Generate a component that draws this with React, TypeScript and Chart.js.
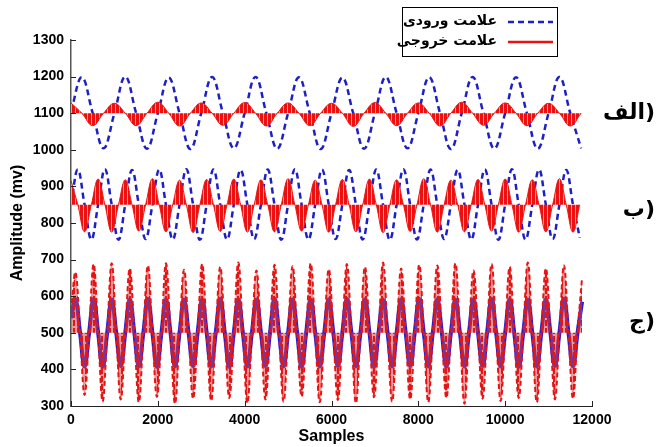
import React, { useEffect, useRef } from 'react';
import { Chart, registerables } from 'chart.js';

Chart.register(...registerables);

// ---- axes ----
const X_TICKS = [0, 2000, 4000, 6000, 8000, 10000, 12000];
const Y_TICKS = [300, 400, 500, 600, 700, 800, 900, 1000, 1100, 1200, 1300];
const X_TITLE = 'Samples';
const Y_TITLE = 'Amplitude (mv)';

// ---- legend & panel labels ----
const LEGEND_LABELS = ['علامت ورودی', 'علامت خروجی'];
const PANEL_LABELS = ['الف)', 'ب)', 'ج)'];

// ---- panel (الف): read every 250 samples ----
const TOP_STEP = 250;
const TOP_INPUT = [
  1105, 1198, 1100, 1004, 1100, 1200, 1100, 1003, 1100, 1197, 1100, 1002,
  1100, 1199, 1100, 1004, 1100, 1199, 1100, 1003, 1100, 1198, 1100, 1002,
  1100, 1197, 1100, 1003, 1100, 1199, 1100, 1004, 1100, 1198, 1100, 1002,
  1100, 1199, 1100, 1003, 1100, 1198, 1100, 1003, 1100, 1199, 1100, 1004,
];
const TOP_OUTPUT = [
  1128, 1100, 1066, 1100, 1127, 1100, 1066, 1100, 1130, 1100, 1065, 1100,
  1128, 1100, 1067, 1100, 1129, 1100, 1065, 1100, 1128, 1100, 1066, 1100,
  1127, 1100, 1064, 1100, 1129, 1100, 1066, 1100, 1128, 1100, 1065, 1100,
  1130, 1100, 1067, 1100, 1128, 1100, 1066, 1100, 1127, 1100, 1065, 1100,
];

// ---- panel (ب): read every 156.25 samples ----
const MID_STEP = 156.25;
const MID_INPUT = [
  850, 946, 850, 755, 850, 947, 850, 754, 850, 945, 850, 756, 850, 946, 850, 755,
  850, 947, 850, 754, 850, 946, 850, 755, 850, 945, 850, 756, 850, 946, 850, 754,
  850, 947, 850, 755, 850, 946, 850, 756, 850, 945, 850, 755, 850, 946, 850, 754,
  850, 947, 850, 755, 850, 946, 850, 756, 850, 945, 850, 755, 850, 946, 850, 754,
  850, 947, 850, 755, 850, 946, 850, 756, 850, 945, 850, 760,
];
const MID_OUTPUT = [
  916, 850, 776, 850, 920, 850, 775, 850, 918, 850, 778, 850, 921, 850, 776, 850,
  917, 850, 774, 850, 919, 850, 777, 850, 920, 850, 775, 850, 918, 850, 776, 850,
  921, 850, 778, 850, 917, 850, 775, 850, 919, 850, 776, 850, 920, 850, 774, 850,
  918, 850, 777, 850, 921, 850, 775, 850, 917, 850, 776, 850, 919, 850, 778, 850,
  920, 850, 775, 850, 918, 850, 776, 850, 921, 850, 775, 850,
];

// ---- panel (ج): read every 104.1667 samples ----
const BOT_STEP = 104.1667;
const BOT_INPUT = [
  540, 592, 500, 408, 500, 593, 500, 407, 500, 591, 500, 409, 500, 592, 500, 408,
  500, 593, 500, 407, 500, 592, 500, 408, 500, 591, 500, 409, 500, 592, 500, 408,
  500, 593, 500, 407, 500, 592, 500, 408, 500, 591, 500, 409, 500, 593, 500, 408,
  500, 592, 500, 407, 500, 591, 500, 408, 500, 592, 500, 409, 500, 593, 500, 408,
  500, 592, 500, 407, 500, 591, 500, 408, 500, 592, 500, 409, 500, 593, 500, 408,
  500, 592, 500, 407, 500, 591, 500, 408, 500, 592, 500, 409, 500, 593, 500, 408,
  500, 592, 500, 407, 500, 591, 500, 408, 500, 592, 500, 409, 500, 593, 500, 408,
  500, 585,
];
const BOT_OUTPUT = [
  560, 665, 500, 330, 500, 688, 500, 312, 500, 690, 500, 318, 500, 676, 500, 310,
  500, 684, 500, 325, 500, 690, 500, 306, 500, 672, 500, 320, 500, 688, 500, 314,
  500, 680, 500, 322, 500, 692, 500, 308, 500, 670, 500, 318, 500, 686, 500, 312,
  500, 682, 500, 326, 500, 690, 500, 310, 500, 674, 500, 316, 500, 688, 500, 308,
  500, 680, 500, 324, 500, 692, 500, 312, 500, 676, 500, 318, 500, 686, 500, 310,
  500, 684, 500, 322, 500, 690, 500, 306, 500, 670, 500, 320, 500, 688, 500, 314,
  500, 680, 500, 322, 500, 692, 500, 310, 500, 676, 500, 318, 500, 684, 500, 320,
  500, 650,
];

const BLUE = '#1f20c4';
const BLUE_SOLID = '#1c1ee0';
const RED = '#e81414';
const FONT = '"Liberation Sans", Arial, sans-serif';
const AR_FONT = '"DejaVu Sans", sans-serif';

function toPoints(values: number[], step: number) {
  return values.map((y, i) => ({ x: i * step, y }));
}

function makePattern(w: number, h: number, draw: (c: CanvasRenderingContext2D) => void) {
  const c = document.createElement('canvas');
  c.width = w;
  c.height = h;
  const cx = c.getContext('2d')!;
  draw(cx);
  return cx.createPattern(c, 'repeat')!;
}

const inwardTicks = {
  id: 'inwardTicks',
  afterDraw(chart: any) {
    const { ctx, chartArea, scales } = chart;
    ctx.save();
    ctx.strokeStyle = '#222';
    ctx.lineWidth = 1;
    for (const v of Y_TICKS) {
      const py = Math.round(scales.y.getPixelForValue(v)) + 0.5;
      ctx.beginPath();
      ctx.moveTo(chartArea.left, py);
      ctx.lineTo(chartArea.left + 5, py);
      ctx.stroke();
    }
    for (const v of X_TICKS) {
      const px = Math.round(scales.x.getPixelForValue(v)) + 0.5;
      ctx.beginPath();
      ctx.moveTo(px, chartArea.bottom);
      ctx.lineTo(px, chartArea.bottom - 5);
      ctx.stroke();
    }
    ctx.restore();
  },
};

const annotations = {
  id: 'annotations',
  afterDraw(chart: any) {
    const { ctx } = chart;
    ctx.save();
    // legend box
    ctx.fillStyle = '#fff';
    ctx.fillRect(402, 7, 155, 49);
    ctx.strokeStyle = '#000';
    ctx.lineWidth = 1;
    ctx.strokeRect(402.5, 7.5, 155, 49);
    ctx.font = `bold 14px ${AR_FONT}`;
    ctx.fillStyle = '#000';
    ctx.textBaseline = 'middle';
    ctx.textAlign = 'right';
    ctx.fillText(LEGEND_LABELS[0], 497, 21);
    ctx.fillText(LEGEND_LABELS[1], 497, 41);
    ctx.lineWidth = 2.5;
    ctx.strokeStyle = BLUE;
    ctx.setLineDash([6, 4]);
    ctx.beginPath();
    ctx.moveTo(508, 22);
    ctx.lineTo(553, 22);
    ctx.stroke();
    ctx.setLineDash([]);
    ctx.strokeStyle = RED;
    ctx.beginPath();
    ctx.moveTo(508, 42);
    ctx.lineTo(553, 42);
    ctx.stroke();
    // panel labels (LRM keeps the closing parenthesis on the right)
    ctx.font = `bold 22px ${AR_FONT}`;
    ctx.fillStyle = '#000';
    ctx.textAlign = 'right';
    const ys = [113, 210, 322];
    PANEL_LABELS.forEach((t, i) => ctx.fillText('\u200E' + t, 655, ys[i]));
    ctx.restore();
  },
};

export default function App() {
  const ref = useRef<HTMLCanvasElement | null>(null);
  useEffect(() => {
    if (!ref.current) return;
    const topPattern = makePattern(4, 1, (c) => {
      c.fillStyle = '#ec1010';
      c.fillRect(0, 0, 3, 1);
      c.fillStyle = '#f5a0a0';
      c.fillRect(3, 0, 1, 1);
    });
    const botPattern = makePattern(4, 8, (c) => {
      c.fillStyle = 'rgba(215,70,70,0.55)';
      c.fillRect(0, 0, 4, 8);
      c.fillStyle = '#e01818';
      c.fillRect(1, 0, 2, 6);
    });
    const tickFont = { family: FONT, size: 14, weight: 'bold' as const };
    const fmt = (v: any) => String(v);
    const chart = new Chart(ref.current, {
      type: 'line',
      data: {
        datasets: [
          { data: toPoints(TOP_INPUT, TOP_STEP), borderColor: BLUE, borderWidth: 2.5, borderDash: [6, 4], pointRadius: 0, tension: 0.4, fill: false, order: 4 },
          { data: toPoints(TOP_OUTPUT, TOP_STEP), borderColor: RED, borderWidth: 1, backgroundColor: topPattern, pointRadius: 0, tension: 0.4, fill: { value: 1100 }, order: 1 },
          { data: toPoints(MID_INPUT, MID_STEP), borderColor: BLUE, borderWidth: 2.5, borderDash: [6, 4], pointRadius: 0, tension: 0.4, fill: false, order: 5 },
          { data: toPoints(MID_OUTPUT, MID_STEP), borderColor: RED, borderWidth: 1, backgroundColor: topPattern, pointRadius: 0, tension: 0.4, fill: { value: 850 }, order: 2 },
          { data: toPoints(BOT_INPUT, BOT_STEP), borderColor: BLUE_SOLID, borderWidth: 4, pointRadius: 0, tension: 0.4, fill: false, order: 6 },
          { data: toPoints(BOT_OUTPUT, BOT_STEP), borderColor: RED, borderWidth: 2, borderDash: [5, 3], backgroundColor: botPattern, pointRadius: 0, tension: 0.4, fill: { value: 500 }, order: 3 },
        ],
      },
      options: {
        responsive: false,
        animation: false,
        events: [],
        layout: { padding: { top: 40, right: 72, left: 0, bottom: 0 } },
        plugins: { legend: { display: false }, tooltip: { enabled: false } },
        scales: {
          x: {
            type: 'linear',
            min: 0,
            max: 12000,
            afterBuildTicks: (s: any) => { s.ticks = X_TICKS.map((v) => ({ value: v })); },
            afterFit: (s: any) => { s.height = 41; },
            ticks: { font: tickFont, color: '#000', padding: 6, maxRotation: 0, autoSkip: false, callback: fmt },
            grid: { drawOnChartArea: false, drawTicks: false },
            border: { color: '#222', width: 1 },
            title: { display: true, text: X_TITLE, color: '#000', font: { family: FONT, size: 16, weight: 'bold' }, padding: { top: 0, bottom: 1 } },
          },
          y: {
            type: 'linear',
            min: 300,
            max: 1300,
            afterBuildTicks: (s: any) => { s.ticks = Y_TICKS.map((v) => ({ value: v })); },
            afterFit: (s: any) => { s.width = 71; },
            ticks: { font: tickFont, color: '#000', padding: 7, autoSkip: false, callback: fmt },
            grid: { drawOnChartArea: false, drawTicks: false },
            border: { color: '#555', width: 1.5 },
            title: { display: true, text: Y_TITLE, color: '#000', font: { family: FONT, size: 16, weight: 'bold' }, padding: { top: 8, bottom: 0 } },
          },
        },
      },
      plugins: [inwardTicks, annotations],
    });
    return () => chart.destroy();
  }, []);
  return (
    <div style={{ position: 'absolute', left: 0, top: 0, width: 664, height: 447, background: '#fff' }}>
      <canvas ref={ref} width={664} height={447} style={{ display: 'block' }} />
    </div>
  );
}
